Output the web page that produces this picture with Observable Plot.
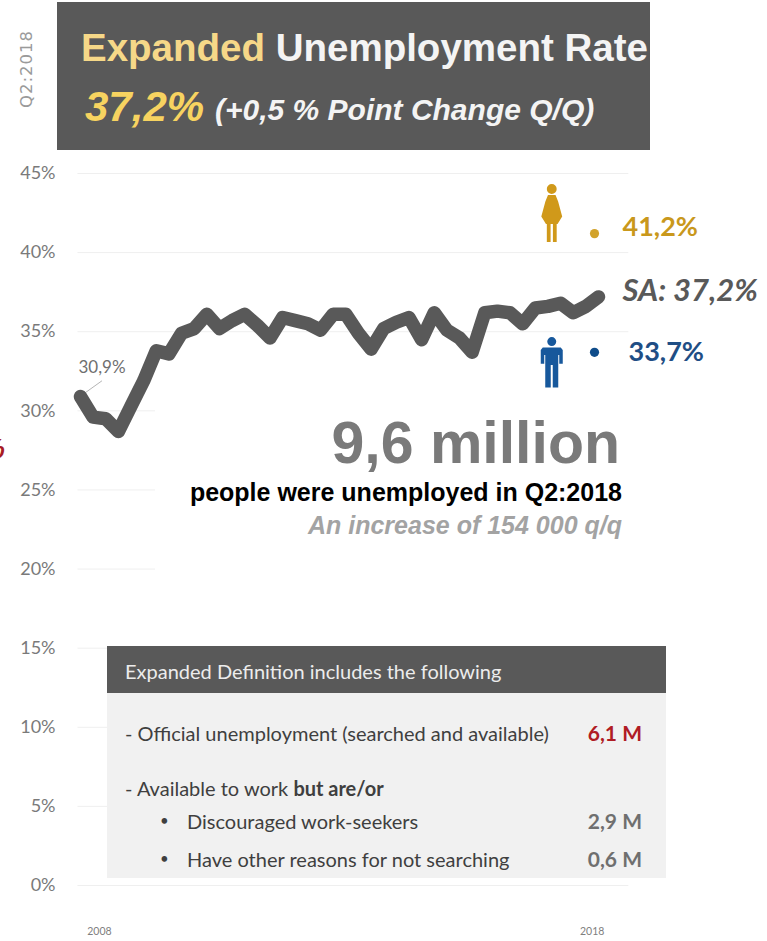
<!DOCTYPE html>
<html>
<head>
<meta charset="utf-8">
<script src="https://cdn.jsdelivr.net/npm/d3@7"></script>
<script src="https://cdn.jsdelivr.net/npm/@observablehq/plot@0.6"></script>
<style>
  html, body { margin: 0; background: #fff; }
  #page { position: relative; width: 767px; height: 941px; overflow: hidden; }
  #page svg { position: absolute; left: 0; top: 155px; overflow: visible; }
  .abs { position: absolute; white-space: nowrap; line-height: 1; }
  .arial { font-family: "Liberation Sans", Arial, sans-serif; }
  .lato { font-family: Lato, sans-serif; }
  #banner { position: absolute; left: 57px; top: 2px; width: 593px; height: 148px; background: #595959; }
  #mask { position: absolute; left: 155px; top: 392px; width: 490px; height: 195px; background: #fff; }
  #panel { position: absolute; left: 107px; top: 646px; width: 559px; height: 232px; background: #f1f1f1; }
  #panelHead { position: absolute; left: 107px; top: 646px; width: 559px; height: 47px; background: #595959; }
</style>
</head>
<body>
<div id="page"></div>
<script>
// Expanded unemployment rate, quarterly from Q1 2008 to Q2 2018 (percent)
const quarters = d3.range(42);
const rate = [
  30.9, 29.6, 29.5, 28.7, 30.3, 31.9, 33.8, 33.6, 34.9, 35.2,
  36.1, 35.2, 35.7, 36.1, 35.4, 34.6, 35.9, 35.7, 35.5, 35.1,
  36.1, 36.1, 34.9, 33.9, 35.2, 35.6, 35.9, 34.5, 36.2, 35.1,
  34.6, 33.7, 36.2, 36.3, 36.2, 35.5, 36.5, 36.6, 36.8, 36.2,
  36.6, 37.2
];
const yTicks = [0, 5, 10, 15, 20, 25, 30, 35, 40, 45];
const yearTicks = [1.5, 40.5];
const yearLabels = ["2008", "2018"];

// Latest rate by sex, and the national figure
const femaleRate = 41.2, maleRate = 33.7, latestRate = 37.2, firstRate = 30.9;

// Breakdown rows of the definition panel
const panelRows = [
  {text: "- Official unemployment (searched and available)", top: 723, left: 125, value: "6,1 M", color: "#b01c24"},
  {html: "- Available to work <b>but are/or</b>", top: 778, left: 125},
  {text: "Discouraged work-seekers", top: 811, left: 187, value: "2,9 M", color: "#6f6f6f"},
  {text: "Have other reasons for not searching", top: 849, left: 187, value: "0,6 M", color: "#6f6f6f"}
];
const bulletTops = [813, 851];

const page = document.getElementById("page");

// Person pictograms, scaled from the dot radius
const personFemale = {
  draw(c, size) {
    const s = Math.sqrt(size / Math.PI);
    c.moveTo(s * 0.17, -s * 0.83); c.arc(0, -s * 0.83, s * 0.17, 0, 2 * Math.PI);
    c.moveTo(-s * 0.13, -s * 0.62);
    c.lineTo(s * 0.13, -s * 0.62);
    c.lineTo(s * 0.22, -s * 0.4);
    c.lineTo(s * 0.36, s * 0.12);
    c.lineTo(s * 0.2, s * 0.38);
    c.lineTo(s * 0.17, s * 0.38);
    c.lineTo(s * 0.17, s * 1);
    c.lineTo(s * 0.04, s * 1);
    c.lineTo(s * 0.04, s * 0.38);
    c.lineTo(-s * 0.04, s * 0.38);
    c.lineTo(-s * 0.04, s * 1);
    c.lineTo(-s * 0.17, s * 1);
    c.lineTo(-s * 0.17, s * 0.38);
    c.lineTo(-s * 0.2, s * 0.38);
    c.lineTo(-s * 0.36, s * 0.12);
    c.lineTo(-s * 0.22, -s * 0.4);
    c.closePath();
  }
};
const personMale = {
  draw(c, size) {
    const s = Math.sqrt(size / Math.PI);
    c.moveTo(s * 0.18, -s * 0.84); c.arc(0, -s * 0.84, s * 0.18, 0, 2 * Math.PI);
    c.moveTo(-s * 0.36, -s * 0.6);
    c.lineTo(s * 0.36, -s * 0.6);
    c.lineTo(s * 0.44, -s * 0.5);
    c.lineTo(s * 0.44, s * 0.05);
    c.lineTo(s * 0.3, s * 0.05);
    c.lineTo(s * 0.3, -s * 0.3);
    c.lineTo(s * 0.26, -s * 0.3);
    c.lineTo(s * 0.26, s * 1);
    c.lineTo(s * 0.04, s * 1);
    c.lineTo(s * 0.04, s * 0.1);
    c.lineTo(-s * 0.04, s * 0.1);
    c.lineTo(-s * 0.04, s * 1);
    c.lineTo(-s * 0.26, s * 1);
    c.lineTo(-s * 0.26, -s * 0.3);
    c.lineTo(-s * 0.3, -s * 0.3);
    c.lineTo(-s * 0.3, s * 0.05);
    c.lineTo(-s * 0.44, s * 0.05);
    c.lineTo(-s * 0.44, -s * 0.5);
    c.closePath();
  }
};

const chart = Plot.plot({
  width: 767,
  height: 786,
  marginTop: 18,
  marginBottom: 56,
  marginLeft: 80,
  marginRight: 169,
  style: {fontFamily: "Lato, sans-serif", background: "transparent", overflow: "visible"},
  x: {domain: [0, 41]},
  y: {domain: [0, 45]},
  marks: [
    Plot.gridY(yTicks, {stroke: "#efefef", strokeOpacity: 1, x1: -0.2, x2: 43.4}),
    Plot.axisY(yTicks, {
      anchor: "left", tickSize: 0, tickPadding: 25, label: null,
      tickFormat: d => d + "%", fontSize: 18, color: "#7a7a7a"
    }),
    Plot.axisX(yearTicks, {
      anchor: "bottom", tickSize: 0, tickPadding: 42, label: null,
      tickFormat: (d, i) => yearLabels[i], fontSize: 10.5, color: "#808080"
    }),
    Plot.link([firstRate], {
      x1: 0.3, y1: 31.1, x2: 1.7, y2: 31.9, stroke: "#b5b5b5", strokeWidth: 1
    }),
    Plot.line(quarters, {
      x: d => d, y: d => rate[d],
      stroke: "#595959", strokeWidth: 13.5, strokeLinejoin: "round", strokeLinecap: "round"
    }),
    Plot.text([firstRate], {
      x: 0, y: d => d, dx: -2, dy: -29, textAnchor: "start",
      text: d => String(d).replace(".", ",") + "%", fontSize: 17, fill: "#6f6f6f"
    }),
    Plot.dot([femaleRate], {x: 41, y: d => d, r: 4.6, fill: "#d2a32b", dx: -4}),
    Plot.dot([maleRate], {x: 41, y: d => d, r: 4.6, fill: "#0f4c8a", dx: -4}),
    Plot.dot([femaleRate], {x: 37.3, y: 42.5, r: 29, symbol: personFemale, fill: "#d0991a"}),
    Plot.dot([maleRate], {x: 37.3, y: 33.05, r: 25, symbol: personMale, fill: "#17589c"}),
    Plot.text([femaleRate], {
      x: 41, y: d => d, dx: 24, dy: -6, textAnchor: "start",
      text: d => String(d).replace(".", ",") + "%", fontSize: 27, fontWeight: 700, fill: "#c9981c"
    }),
    Plot.text([maleRate], {
      x: 41, y: d => d, dx: 30, textAnchor: "start",
      text: d => String(d).replace(".", ",") + "%", fontSize: 27, fontWeight: 700, fill: "#1f4e85"
    }),
    Plot.text([latestRate], {
      x: 41, y: d => d, dx: 24, dy: -6, textAnchor: "start",
      text: d => "SA: " + String(d).replace(".", ",") + "%",
      fontSize: 31, fontWeight: 700, fontStyle: "italic", fill: "#595959"
    })
  ]
});
page.appendChild(chart);

// Adds an absolutely placed text element on the page
function put(html, cls, style) {
  const el = document.createElement("div");
  el.className = cls;
  el.innerHTML = html;
  Object.assign(el.style, style);
  page.appendChild(el);
  return el;
}

// White area behind the headline figure, then the two panels
put("", "", {}).id = "mask";
put("", "", {}).id = "panel";
put("", "", {}).id = "panelHead";
put("", "", {}).id = "banner";

put("Q2:2018", "abs", {
  left: "27px", top: "69px", fontFamily: "'DejaVu Sans'", fontSize: "16.5px", color: "#9a9a9a",
  letterSpacing: "1px", transform: "translate(-50%,-50%) rotate(-90deg)"
});
put('<span style="color:#f6d888">Expanded</span> <span style="color:#f4f4f4">Unemployment Rate</span>', "abs arial", {
  left: "81px", top: "29px", fontSize: "38.5px", fontWeight: "700"
});
put("37,2%", "abs arial", {
  left: "85px", top: "86px", fontSize: "42px", fontWeight: "700", fontStyle: "italic", color: "#f7d360"
});
put("(+0,5 % Point Change Q/Q)", "abs arial", {
  left: "215px", top: "95px", fontSize: "30px", fontWeight: "700", fontStyle: "italic", color: "#f4f4f4"
});

put("%", "abs arial", {
  left: "-20px", top: "435px", fontSize: "28px", fontWeight: "700", fontStyle: "italic", color: "#a81c24"
});

put("9,6 million", "abs arial", {
  right: "147px", top: "414px", fontSize: "59px", fontWeight: "700", color: "#7a7a7a"
});
put("people were unemployed in Q2:2018", "abs arial", {
  right: "145px", top: "480px", fontSize: "25px", fontWeight: "700", color: "#000"
});
put("An increase of 154 000 q/q", "abs arial", {
  right: "145px", top: "513px", fontSize: "25px", fontWeight: "700", fontStyle: "italic", color: "#a3a3a3"
});

put("Expanded Definition includes the following", "abs lato", {
  left: "125px", top: "661px", fontSize: "20px", color: "#ececec"
});
for (const row of panelRows) {
  put(row.html || row.text, "abs lato", {
    left: row.left + "px", top: row.top + "px", fontSize: "20px", color: "#3f3f3f"
  });
  if (row.value) {
    put(row.value, "abs lato", {
      right: "125px", top: (row.top - 1) + "px", fontSize: "21px", fontWeight: "700", color: row.color
    });
  }
}
for (const top of bulletTops) {
  put("•", "abs lato", {left: "160px", top: top + "px", fontSize: "15px", color: "#3f3f3f"});
}
</script>
</body>
</html>
